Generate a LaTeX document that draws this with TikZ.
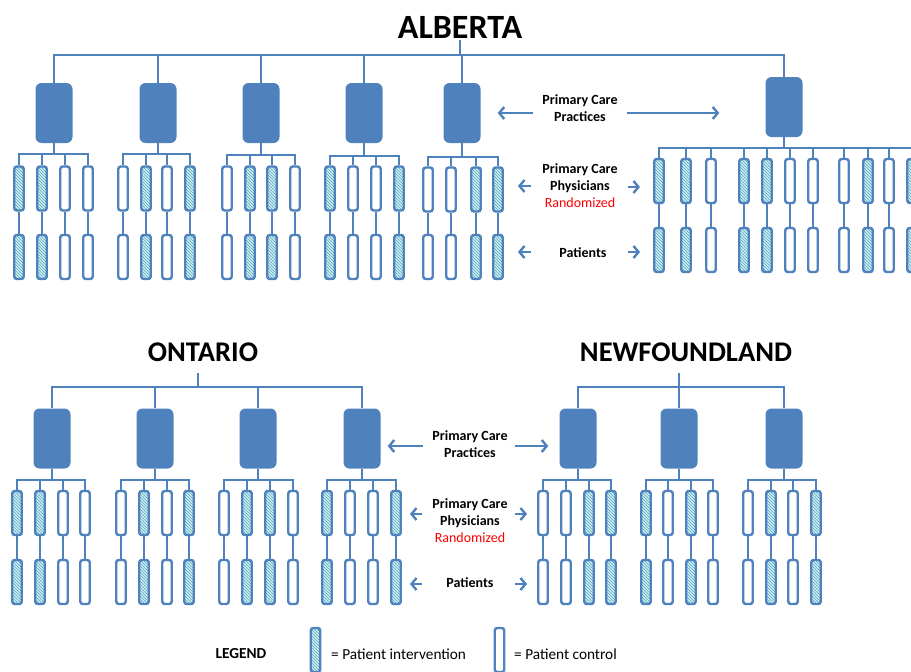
\documentclass[tikz,border=0pt]{standalone}
\usepackage{fontspec}
\setmainfont{Carlito}
\usetikzlibrary{patterns,arrows.meta}
\definecolor{bl}{HTML}{4F81BD}
\definecolor{hatchbg}{HTML}{D4ECEE}
\definecolor{hatchfg}{HTML}{4BACC6}
\definecolor{rndred}{HTML}{FF0000}
\tikzset{
  conn/.style={draw=bl, line width=2.4pt},
  practice/.style={rectangle, rounded corners=6pt, fill=bl, minimum width=37pt, minimum height=60pt, inner sep=0pt},
  physbase/.style={rectangle, rounded corners=2.5pt, draw=bl, line width=2.4pt, minimum width=9.5pt, minimum height=44pt, inner sep=0pt},
  pint/.style={physbase, preaction={fill=hatchbg}, pattern=north west lines, pattern color=hatchfg},
  pctl/.style={physbase, fill=white},
  titletext/.style={font=\bfseries\fontsize{28.5}{28.5}\selectfont, inner sep=0pt},
  bigtitle/.style={font=\bfseries\fontsize{34}{34}\selectfont, inner sep=0pt},
  lab/.style={font=\bfseries\fontsize{14}{17}\selectfont, align=center, inner sep=0pt},
  legtitle/.style={font=\bfseries\fontsize{15.3}{17}\selectfont, inner sep=0pt},
  legtext/.style={font=\fontsize{15.3}{17}\selectfont, inner sep=0pt, anchor=west},
  arr/.style={draw=bl, line width=2.4pt, -{Straight Barb[length=5pt,width=12pt]}},
}
\newcommand\physgroup[6]{%
  \foreach \xx/\kind [count=\k] in {#6} {%
    \node[\kind] (#1t\k) at (\xx,#4) {};
    \node[\kind] (#1b\k) at (\xx,#5) {};
    \draw[conn] (#2.south) -- (#2.south |- 0,#3) -| (#1t\k.north);
    \draw[conn] (#1t\k.south) -- (#1b\k.north);
  }%
}
\begin{document}
\begin{tikzpicture}[x=1pt,y=-1pt]
\path[use as bounding box] (0,0) rectangle (911,672);
\clip (0,0) rectangle (911,672);

% ================= ALBERTA =================
\node[bigtitle] (alT) at (460,27) {ALBERTA};
\node[practice] (ap1) at (54,113) {};
\node[practice] (ap2) at (158,113) {};
\node[practice] (ap3) at (261,113) {};
\node[practice] (ap4) at (364,113) {};
\node[practice] (ap5) at (462,113) {};
\node[practice] (ap6) at (784,107) {};
\foreach \i in {1,...,6}
  \draw[conn] ([yshift=-2pt]alT.south) -- ([yshift=-2pt]alT.south |- 0,53) -| (ap\i.north);

\physgroup{a1}{ap1}{154}{188.5}{257}{19/pint,42/pint,65/pctl,88/pctl}
\physgroup{a2}{ap2}{154}{188.5}{257}{123/pctl,146/pint,167/pctl,190/pint}
\physgroup{a3}{ap3}{155}{188.5}{257}{227/pctl,250/pint,272/pint,295/pctl}
\physgroup{a4}{ap4}{156}{188.5}{257}{330/pint,353/pctl,376/pctl,399/pint}
\physgroup{a5}{ap5}{157}{189.5}{257}{428/pctl,451/pctl,476/pint,498/pint}
\physgroup{a6}{ap6}{148}{181}{250}{659/pint,686/pint,711/pctl,744/pint,767/pint,790/pctl,813/pctl,844/pctl,868/pint,889/pctl,912/pint}

% labels Alberta
\node[lab] (alpr) at (580,108.5) {Primary Care\\Practices};
\node[lab] (alph) at (580,186) {Primary Care\\Physicians\\{\mdseries\color{rndred}Randomized}};
\node[lab] (alpa) at (583,253) {Patients};
\draw[arr] ([xshift=-9pt]alpr.west |- ap5.east) -- ([xshift=17pt]ap5.east);
\draw[arr] ([xshift=9pt]alpr.east |- ap5.east) -- ([xshift=-46pt]ap6.west |- ap5.east);
\draw[arr] ([xshift=-11pt]alph.west |- 0,186) -- ([xshift=14pt]a5t4.east |- 0,186);
\draw[arr] ([xshift=10pt]alph.east |- 0,187) -- ([xshift=-13pt]a6t1.west |- 0,187);
\draw[arr] ([xshift=-11pt]alph.west |- 0,252) -- ([xshift=14pt]a5b4.east |- 0,252);
\draw[arr] ([xshift=10pt]alph.east |- 0,252) -- ([xshift=-13pt]a6b1.west |- 0,252);

% ================= ONTARIO =================
\node[titletext] (onT) at (203,352) {ONTARIO};
\coordinate (onTop) at (198,373);
\node[practice] (op1) at (52,438.5) {};
\node[practice] (op2) at (155,438.5) {};
\node[practice] (op3) at (258,438.5) {};
\node[practice] (op4) at (362,438.5) {};
\foreach \i in {1,...,4}
  \draw[conn] (onTop) -- (onTop |- 0,387) -| (op\i.north);

\physgroup{o1}{op1}{480}{513}{582}{17/pint,40/pint,63/pctl,85/pctl}
\physgroup{o2}{op2}{480}{513}{582}{121/pctl,144/pint,167/pctl,189/pint}
\physgroup{o3}{op3}{480}{513}{582}{224/pctl,247/pint,270/pint,293/pctl}
\physgroup{o4}{op4}{480}{513}{582}{327/pint,350/pctl,373/pctl,396/pint}

% ================= NEWFOUNDLAND =================
\node[titletext] (nfT) at (686,352) {NEWFOUNDLAND};
\coordinate (nfTop) at (679,373);
\node[practice] (np1) at (578,438.5) {};
\node[practice] (np2) at (679,438.5) {};
\node[practice] (np3) at (784,438.5) {};
\foreach \i in {1,...,3}
  \draw[conn] (nfTop) -- (nfTop |- 0,387) -| (np\i.north);

\physgroup{n1}{np1}{480}{513}{582}{543/pctl,566/pctl,589/pint,611/pint}
\physgroup{n2}{np2}{480}{513}{582}{646/pint,668/pctl,691/pint,713/pctl}
\physgroup{n3}{np3}{480}{513}{582}{748/pctl,771/pint,793/pctl,816/pint}

% middle labels
\node[lab] (mpr) at (470,444) {Primary Care\\Practices};
\node[lab] (mph) at (470,521) {Primary Care\\Physicians\\{\mdseries\color{rndred}Randomized}};
\node[lab] (mpa) at (470,583) {Patients};
\draw[arr] ([xshift=-9pt]mpr.west |- 0,446) -- ([xshift=7pt]op4.east |- 0,446);
\draw[arr] ([xshift=7pt]mpr.east |- 0,446) -- ([xshift=-11pt]np1.west |- 0,446);
\draw[arr] ([xshift=-10pt]mph.west |- 0,514) -- ([xshift=8pt]o4t4.east |- 0,514);
\draw[arr] ([xshift=7pt]mph.east |- 0,514) -- ([xshift=-10pt]n1t1.west |- 0,514);
\draw[arr] ([xshift=-10pt]mph.west |- 0,584) -- ([xshift=8pt]o4b4.east |- 0,584);
\draw[arr] ([xshift=7pt]mph.east |- 0,584) -- ([xshift=-10pt]n1b1.west |- 0,584);

% ================= LEGEND =================
\node[legtitle] (legT) at (241,654) {LEGEND};
\node[pint] (legI) at (315.5,650) {};
\node[legtext] (legIt) at (331,654) {= Patient intervention};
\node[pctl] (legC) at (499.5,650) {};
\node[legtext] (legCt) at (514,654) {= Patient control};
\end{tikzpicture}
\end{document}
